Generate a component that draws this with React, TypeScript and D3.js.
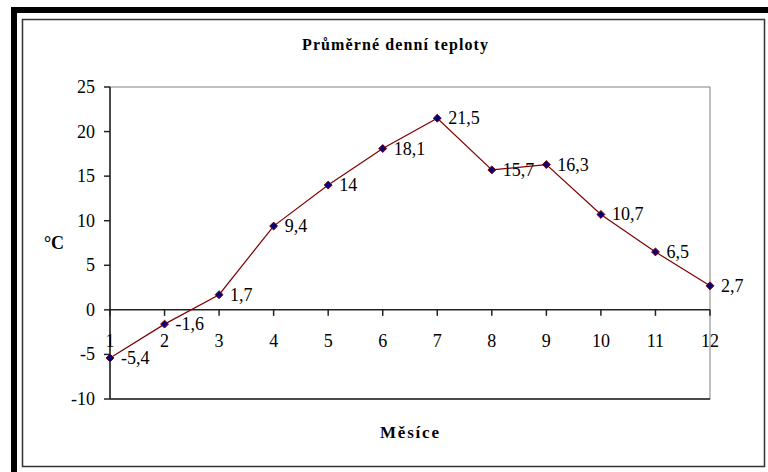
import React from "react";
import * as d3 from "d3";

const months = ["1", "2", "3", "4", "5", "6", "7", "8", "9", "10", "11", "12"];
const temps = [-5.4, -1.6, 1.7, 9.4, 14, 18.1, 21.5, 15.7, 16.3, 10.7, 6.5, 2.7];
const yTicks = [-10, -5, 0, 5, 10, 15, 20, 25];
const title = "Průměrné denní teploty";
const yTitle = "°C";
const xTitle = "Měsíce";

const W = 768, H = 472;
const plot = { left: 110, right: 710, top: 87, bottom: 399 };
const font = "Liberation Serif";

export default function App() {
  const x = d3.scalePoint<string>().domain(months).range([plot.left, plot.right]);
  const y = d3.scaleLinear().domain([-10, 25]).range([plot.bottom, plot.top]);
  const line = d3.line<number>().x((_, i) => x(months[i])!).y((d) => y(d));
  const fmt = (v: number) => String(v).replace(".", ",");
  const diamond = d3.symbol().type(d3.symbolDiamond2).size(40)()!;
  const ts = { fontFamily: font };
  return (
    <svg width={W} height={H} style={{ position: "absolute", left: 0, top: 0, fontFamily: font }}>
      <rect x={0} y={0} width={W} height={H} fill="#fff" />
      <rect x={11} y={7} width={W - 11} height={6} fill="#000" />
      <rect x={11} y={7} width={6} height={H - 7} fill="#000" />
      <rect x={22.5} y={19.5} width={742} height={447} fill="none" stroke="#333" strokeWidth={1.5} />
      <rect x={plot.left} y={plot.top} width={plot.right - plot.left} height={plot.bottom - plot.top} fill="none" stroke="#808080" strokeWidth={1} />
      <text x={302} y={50} fontWeight="bold" fontSize={16} textLength={186} lengthAdjust="spacing" style={ts}>{title}</text>
      <text x={54} y={249} textAnchor="middle" fontWeight="bold" fontSize={18} style={ts}>{yTitle}</text>
      <text x={380} y={438} fontWeight="bold" fontSize={17} textLength={59} lengthAdjust="spacing" style={ts}>{xTitle}</text>
      <line x1={plot.left} x2={plot.left} y1={plot.top} y2={plot.bottom} stroke="#222" strokeWidth={1.5} />
      <line x1={plot.left} x2={plot.right} y1={plot.bottom} y2={plot.bottom} stroke="#222" strokeWidth={1.5} />
      {yTicks.map((t) => (
        <g key={t}>
          <line x1={plot.left - 6} x2={plot.left} y1={y(t)} y2={y(t)} stroke="#222" strokeWidth={1.5} />
          <text x={95} y={y(t) + 6} textAnchor="end" fontSize={18} style={ts}>{t}</text>
        </g>
      ))}
      <line x1={plot.left} x2={plot.right} y1={y(0)} y2={y(0)} stroke="#222" strokeWidth={1.5} />
      {months.map((m) => (
        <g key={m}>
          <line x1={x(m)} x2={x(m)} y1={y(0)} y2={y(0) + 6} stroke="#222" strokeWidth={1.5} />
          <text x={x(m)} y={y(0) + 37} textAnchor="middle" fontSize={18} style={ts}>{m}</text>
        </g>
      ))}
      <path d={line(temps)!} fill="none" stroke="#800000" strokeWidth={1.2} />
      {temps.map((v, i) => (
        <g key={i}>
          <path d={diamond} transform={`translate(${x(months[i])},${y(v)})`} fill="#000080" stroke="#800000" strokeWidth={1} />
          <text x={x(months[i])! + 11} y={y(v) + 6} fontSize={18} style={ts}>{fmt(v)}</text>
        </g>
      ))}
    </svg>
  );
}
